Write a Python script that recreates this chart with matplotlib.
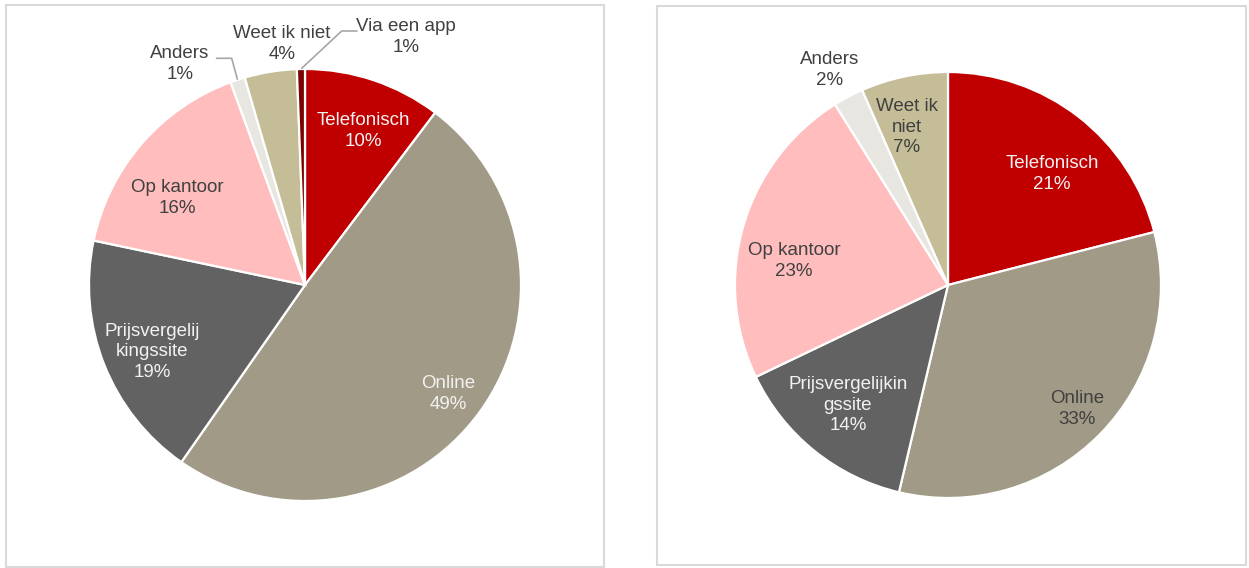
import matplotlib
matplotlib.use("Agg")
import matplotlib.pyplot as plt
from matplotlib.patches import Rectangle

plt.rcParams['font.family'] = ['Liberation Sans', 'DejaVu Sans']

# ---- data ----
left_labels = ["Telefonisch", "Online", "Prijsvergelij\nkingssite", "Op kantoor",
               "Anders", "Weet ik niet", "Via een app"]
left_values = [10.3, 49.4, 18.6, 16.1, 1.1, 3.9, 0.6]
left_shown = [10, 49, 19, 16, 1, 4, 1]

right_labels = ["Telefonisch", "Online", "Prijsvergelijkin\ngssite", "Op kantoor",
                "Anders", "Weet ik\nniet"]
right_values = [21.0, 32.7, 14.2, 23.2, 2.3, 6.6]
right_shown = [21, 33, 14, 23, 2, 7]

colors = {
    "Telefonisch": "#C00000",
    "Online": "#A19A86",
    "Prijs": "#626262",
    "Op kantoor": "#FFBDBD",
    "Anders": "#E8E6E1",
    "Weet": "#C4BD97",
    "Via": "#7B0000",
}
left_colors = [colors[k] for k in ["Telefonisch", "Online", "Prijs", "Op kantoor", "Anders", "Weet", "Via"]]
right_colors = [colors[k] for k in ["Telefonisch", "Online", "Prijs", "Op kantoor", "Anders", "Weet"]]

W, H = 1249, 568
fig = plt.figure(figsize=(W / 100, H / 100), dpi=100)
ax = fig.add_axes([0, 0, 1, 1])


def Y(py):
    return H - py


# boxes
for (x0, y0, x1, y1) in [(6.5, 4.5, 604, 567), (657, 6, 1246, 565)]:
    ax.add_patch(Rectangle((x0, Y(y1)), x1 - x0, y1 - y0, fill=False,
                           edgecolor="#D9D9D9", linewidth=1.5, zorder=0))

wp = dict(edgecolor="white", linewidth=1.6)
ax.pie(left_values, colors=left_colors, startangle=90, counterclock=False,
       center=(305, Y(285)), radius=216, wedgeprops=wp, frame=True)
ax.pie(right_values, colors=right_colors, startangle=90, counterclock=False,
       center=(948, Y(285)), radius=213, wedgeprops=wp, frame=True)

dark = "#404040"
light = "#F2F2F2"
fs = 13.5
ls = 1.3

left_pos = [(363, 131), (448, 394), (152, 352), (177, 198), (180, 64), (282, 44), (406, 37)]
left_tc = [light, light, light, dark, dark, dark, dark]
for lab, v, (px, py), c in zip(left_labels, left_shown, left_pos, left_tc):
    ax.text(px, Y(py), f"{lab}\n{v}%", ha="center", va="center", color=c,
            fontsize=fs, linespacing=ls)

right_pos = [(1052, 174), (1077, 409), (848, 405), (794, 261), (830, 70), (907, 127)]
right_tc = [light, dark, light, dark, dark, dark]
for lab, v, (px, py), c in zip(right_labels, right_shown, right_pos, right_tc):
    ax.text(px, Y(py), f"{lab}\n{v}%", ha="center", va="center", color=c,
            fontsize=fs, linespacing=ls)

# leader lines
ax.plot([216.7, 231.7, 237.3], [Y(58.3), Y(58.3), Y(79)], color="#A6A6A6", lw=1.2)
ax.plot([356.7, 341.7, 301.7], [Y(31), Y(31), Y(68.3)], color="#A6A6A6", lw=1.2)

ax.set_xlim(0, W)
ax.set_ylim(0, H)
ax.set_aspect("auto")
ax.axis("off")

fig.savefig("out.png", dpi=100)
